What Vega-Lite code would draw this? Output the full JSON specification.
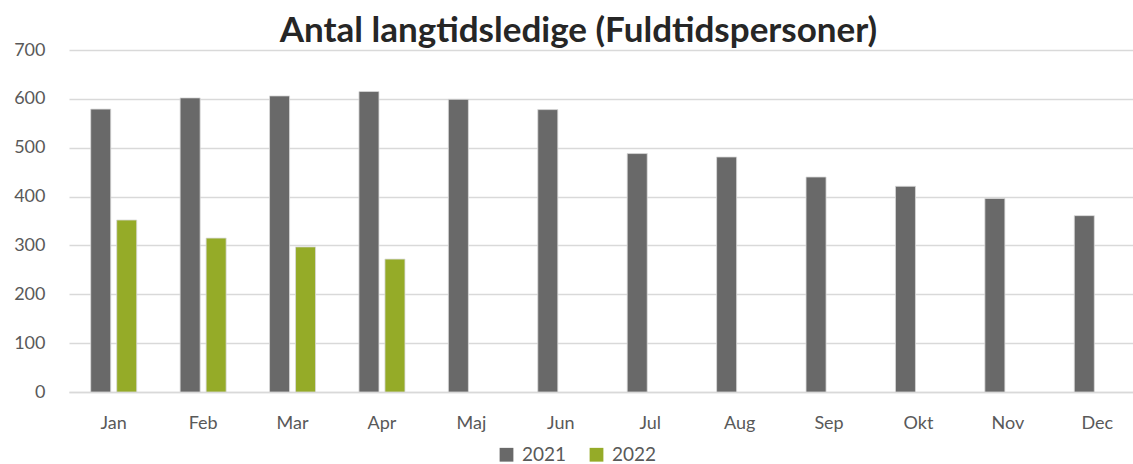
{
  "$schema": "https://vega.github.io/schema/vega-lite/v6.json",
  "width": 1073,
  "height": 342,
  "autosize": "none",
  "padding": {"left": 69, "top": 50, "right": 0, "bottom": 72},
  "background": "white",
  "title": {
    "text": "Antal langtidsledige (Fuldtidspersoner)",
    "font": "Lato",
    "fontSize": 35,
    "fontWeight": "bold",
    "color": "#262626",
    "anchor": "middle",
    "dx": -27,
    "offset": -8
  },
  "data": {
    "values": [
      {"month": "Jan", "year": "2021", "value": 579},
      {"month": "Feb", "year": "2021", "value": 602},
      {"month": "Mar", "year": "2021", "value": 606},
      {"month": "Apr", "year": "2021", "value": 615},
      {"month": "Maj", "year": "2021", "value": 599},
      {"month": "Jun", "year": "2021", "value": 578},
      {"month": "Jul", "year": "2021", "value": 488},
      {"month": "Aug", "year": "2021", "value": 481},
      {"month": "Sep", "year": "2021", "value": 440},
      {"month": "Okt", "year": "2021", "value": 421},
      {"month": "Nov", "year": "2021", "value": 396},
      {"month": "Dec", "year": "2021", "value": 361},
      {"month": "Jan", "year": "2022", "value": 352},
      {"month": "Feb", "year": "2022", "value": 315},
      {"month": "Mar", "year": "2022", "value": 297},
      {"month": "Apr", "year": "2022", "value": 272}
    ]
  },
  "mark": {"type": "bar", "stroke": "#d9d9d9", "strokeWidth": 0.8},
  "encoding": {
    "x": {
      "field": "month",
      "type": "nominal",
      "sort": ["Jan", "Feb", "Mar", "Apr", "Maj", "Jun", "Jul", "Aug", "Sep", "Okt", "Nov", "Dec"],
      "scale": {"paddingInner": 0.4855, "paddingOuter": 0.2428},
      "axis": {
        "title": null,
        "labelAngle": 0,
        "labelFont": "Lato",
        "labelFontSize": 18,
        "labelColor": "#595959",
        "labelPadding": 22,
        "ticks": false,
        "domainColor": "#d9d9d9",
        "domainWidth": 1.5
      }
    },
    "xOffset": {
      "field": "year",
      "type": "nominal",
      "scale": {"paddingInner": 0.23, "paddingOuter": 0}
    },
    "y": {
      "field": "value",
      "type": "quantitative",
      "scale": {"domain": [0, 700], "nice": false},
      "axis": {
        "title": null,
        "values": [0, 100, 200, 300, 400, 500, 600, 700],
        "labelFont": "Lato",
        "labelFontSize": 18,
        "labelColor": "#595959",
        "labelPadding": 24,
        "ticks": false,
        "domain": false,
        "gridColor": "#d9d9d9",
        "gridWidth": 1.5
      }
    },
    "color": {
      "field": "year",
      "type": "nominal",
      "scale": {"domain": ["2021", "2022"], "range": ["#696969", "#95ab28"]},
      "legend": {
        "title": null,
        "orient": "none",
        "direction": "horizontal",
        "legendX": 428,
        "legendY": 395,
        "symbolType": "square",
        "symbolSize": 190,
        "symbolStrokeWidth": 0,
        "labelFont": "Lato",
        "labelFontSize": 19,
        "labelColor": "#595959",
        "columnPadding": 20,
        "labelOffset": 6
      }
    }
  },
  "config": {"view": {"stroke": null}}
}
